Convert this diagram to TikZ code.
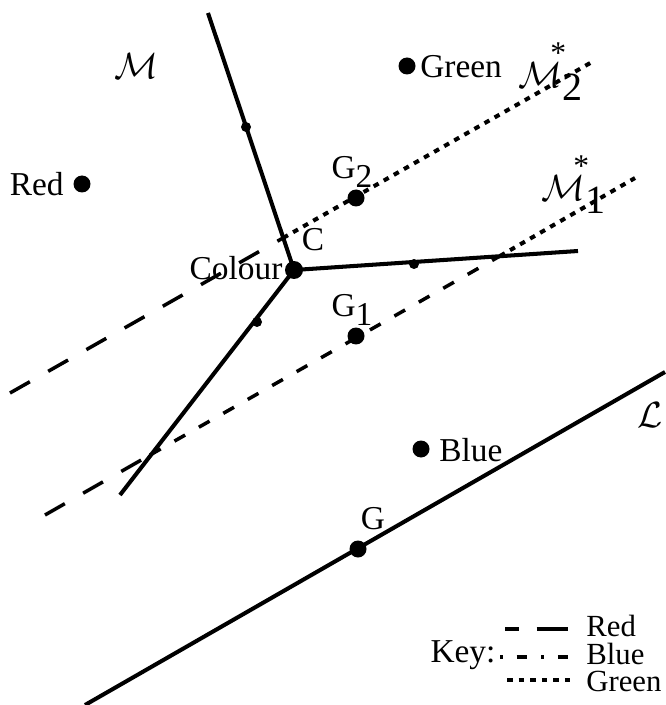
\documentclass[tikz,border=0pt]{standalone}
\usepackage{fontspec}
\setmainfont{Liberation Serif}
\newcommand{\lowidx}[1]{\raisebox{-.55ex}{#1}}
\newcommand{\starM}[1]{$\mathcal{M}$\raisebox{-.7ex}{#1}\llap{\raisebox{1.3ex}{\fontsize{15}{15}\selectfont*}\kern.4em}}
\tikzset{
  redline/.style={line width=2pt,dash pattern=on 13pt off 12pt},
  blueline/.style={line width=2pt,dash pattern=on 7pt off 9pt},
  greenline/.style={line width=2.3pt,dash pattern=on 3.2pt off 3.4pt},
  pt/.style={circle,fill,inner sep=0pt,minimum size=0.34cm},
  tick/.style={circle,fill,inner sep=0pt,minimum size=0.2cm},
  lbl/.style={font=\fontsize{19}{22}\selectfont,inner sep=0pt},
  keylbl/.style={font=\fontsize{17.5}{20}\selectfont,inner sep=0pt,anchor=west}
}
\begin{document}
\begin{tikzpicture}[x=0.02cm,y=-0.02cm]
  \useasboundingbox (0,0) rectangle (665,705);
  % the three boundaries meeting at C
  \node[pt,minimum size=0.36cm] (C) at (294,270) {};
  \coordinate (top) at (208,13);
  \coordinate (right) at (578,251);
  \coordinate (low) at (120,495);
  \draw[line width=2.3pt] (C.center) -- (top);
  \draw[line width=2.3pt] (C.center) -- (right);
  \draw[line width=2.3pt] (C.center) -- (low);
  \node[tick] (t1) at (246,127) {};
  \node[tick] (t2) at (414,264) {};
  \node[tick] (t3) at (257,322) {};
  % M2*
  \coordinate (m2a) at (10,393);
  \coordinate (m2x) at (283,238);
  \coordinate (m2b) at (592,62);
  \draw[redline] (m2a) -- (m2x);
  \draw[greenline] (m2x) -- (m2b);
  % M1*
  \coordinate (m1a) at (45,515);
  \coordinate (m1x) at (150,455);
  \coordinate (m1y) at (500,256);
  \coordinate (m1b) at (635,178);
  \draw[redline] (m1a) -- (m1x);
  \draw[blueline] (m1x) -- (m1y);
  \draw[greenline] (m1y) -- (m1b);
  % L
  \coordinate (La) at (85,705);
  \coordinate (Lb) at (665,372);
  \draw[line width=2.3pt] (La) -- (Lb);
  % points
  \node[pt] (green) at (407,66) {};
  \node[pt] (red) at (82,184) {};
  \node[pt] (G2) at (356,198) {};
  \node[pt] (G1) at (356,336) {};
  \node[pt] (blue) at (421,449) {};
  \node[pt] (G) at (358,549) {};
  % labels
  \node[lbl,anchor=west] (greenl) at (420,67) {Green};
  \node[lbl,anchor=east] (redl) at (64,184) {Red};
  \node[lbl] (G2l) at (352,172) {G\lowidx{2}};
  \node[lbl] (G1l) at (352,310) {G\lowidx{1}};
  \node[lbl] (Cl) at (313,240) {C};
  \node[lbl] (colourl) at (236,268) {Colour};
  \node[lbl,anchor=west] (bluel) at (439,450) {Blue};
  \node[lbl] (Gl) at (373,519) {G};
  \node[lbl,scale=1.2] (Ml) at (136,66) {$\mathcal{M}$};
  \node[lbl,scale=1.2,anchor=west] (M2l) at (518,72) {\starM{2}};
  \node[lbl,scale=1.2,anchor=west] (M1l) at (541,185) {\starM{1}};
  \node[lbl,scale=1.2] (Ll) at (650,415) {$\mathcal{L}$};
  % key
  \node[lbl] (key) at (463,655) {Key:};
  \node[keylbl] (kred) at (586,626) {Red};
  \node[keylbl] (kblue) at (586,654) {Blue};
  \node[keylbl] (kgreen) at (586,681) {Green};
  \coordinate (kra) at (505,629);
  \coordinate (krb) at (568,629);
  \coordinate (kba) at (500,657);
  \coordinate (kbb) at (568,657);
  \coordinate (kga) at (507,680);
  \coordinate (kgb) at (570,680);
  \draw[redline,dash pattern=on 8pt off 10pt on 20pt] (kra) -- (krb);
  \draw[blueline,dash pattern=on 1.5pt off 8pt on 6pt off 8pt] (kba) -- (kbb);
  \draw[greenline] (kga) -- (kgb);
\end{tikzpicture}
\end{document}
